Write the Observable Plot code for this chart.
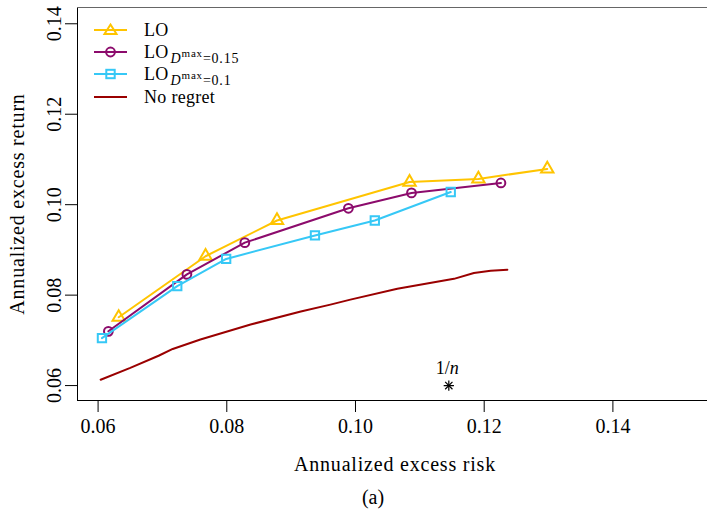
<!DOCTYPE html>
<html><head><meta charset="utf-8">
<script src="https://cdn.jsdelivr.net/npm/d3@7"></script>
<script src="https://cdn.jsdelivr.net/npm/@observablehq/plot@0.6"></script>
<style>
body{margin:0;background:#fff;}
#wrap{position:relative;width:707px;height:518px;font-family:"Liberation Serif","Times New Roman",serif;color:#000;overflow:hidden;}
.t{position:absolute;white-space:nowrap;line-height:1;}
#xt{left:395px;top:454px;transform:translateX(-50%);font-size:20px;letter-spacing:0.8px;}
#yt{left:17px;top:204px;transform:translate(-50%,-50%) rotate(-90deg);font-size:20px;letter-spacing:0.8px;}
#cap{left:373px;top:487px;transform:translateX(-50%);font-size:20px;}
#legend{position:absolute;left:90px;top:18px;font-size:18px;}
.row{position:absolute;left:0;height:24px;white-space:nowrap;}
.row > svg{display:block;}
.row > span.lab{position:absolute;left:54px;top:3px;line-height:1;letter-spacing:0.3px;}
.sb{font-size:14px;position:relative;top:5px;margin-left:2px;letter-spacing:0.8px;}
.sp{font-size:11px;position:relative;top:-6px;letter-spacing:0.8px;}
</style></head><body><div id="wrap"></div>
<script>
// Data
const loX  = [0.0632, 0.0767, 0.0878, 0.1084, 0.1191, 0.1298];
const loY  = [0.0751, 0.0886, 0.0965, 0.1050, 0.1057, 0.1079];
const lo15X = [0.0616, 0.0738, 0.0828, 0.0989, 0.1087, 0.1226];
const lo15Y = [0.0720, 0.0846, 0.0916, 0.0992, 0.1026, 0.1048];
const lo10X = [0.0606, 0.0723, 0.0799, 0.0937, 0.1030, 0.1148];
const lo10Y = [0.0705, 0.0820, 0.0880, 0.0932, 0.0965, 0.1028];
const nrX = [0.0604, 0.0650, 0.0694, 0.0716, 0.0759, 0.0837, 0.0915, 0.0961, 0.0992, 0.1065, 0.1153, 0.1184, 0.1210, 0.1236];
const nrY = [0.0613, 0.0639, 0.0666, 0.0681, 0.0702, 0.0735, 0.0764, 0.0779, 0.0790, 0.0814, 0.0836, 0.0849, 0.0854, 0.0856];
const eqX = [0.1145];
const eqY = [0.0600];
const xTicks = [0.06, 0.08, 0.10, 0.12, 0.14];
const yTicks = [0.06, 0.08, 0.10, 0.12, 0.14];
const xDomain = [0.0568, 0.1547];
const yDomain = [0.0567, 0.1436];

const colors = {lo: "#FFC400", lo15: "#8C0B6C", lo10: "#36C8F6", nr: "#9A0000"};
const zip = (xs, ys) => xs.map((x, i) => ({x, y: ys[i]}));
const lo = zip(loX, loY), lo15 = zip(lo15X, lo15Y), lo10 = zip(lo10X, lo10Y), nr = zip(nrX, nrY), eq = zip(eqX, eqY);
const fmt = d3.format(".2f");
const ff = "Liberation Serif, Times New Roman, serif";

const chart = Plot.plot({
  width: 707, height: 518,
  marginLeft: 77, marginRight: 0, marginTop: 7, marginBottom: 118,
  style: {fontFamily: ff, background: "white", overflow: "visible"},
  x: {domain: xDomain},
  y: {domain: yDomain},
  marks: [
    Plot.axisX({ticks: xTicks, tickSize: 12, tickPadding: 6, tickFormat: fmt, fontSize: 20, stroke: "#000", label: null}),
    Plot.axisY({ticks: yTicks, tickSize: 12, tickFormat: () => "", stroke: "#000", label: null}),
    Plot.text(yTicks, {y: d => d, text: d => fmt(d), frameAnchor: "left", dx: -23, rotate: -90, textAnchor: "middle", lineAnchor: "middle", fontSize: 20}),
    Plot.ruleX([xDomain[0]], {stroke: "#000"}),
    Plot.ruleY([yDomain[0]], {stroke: "#000"}),
    Plot.ruleY([yDomain[1]], {stroke: "#666"}),
    Plot.line(nr, {x: "x", y: "y", stroke: colors.nr, strokeWidth: 2}),
    Plot.line(lo, {x: "x", y: "y", stroke: colors.lo, strokeWidth: 2}),
    Plot.dot(lo, {x: "x", y: "y", symbol: "triangle", r: 4.6, stroke: colors.lo, strokeWidth: 2, fill: "none"}),
    Plot.line(lo15, {x: "x", y: "y", stroke: colors.lo15, strokeWidth: 2}),
    Plot.dot(lo15, {x: "x", y: "y", symbol: "circle", r: 4.4, stroke: colors.lo15, strokeWidth: 2, fill: "none"}),
    Plot.line(lo10, {x: "x", y: "y", stroke: colors.lo10, strokeWidth: 2}),
    Plot.dot(lo10, {x: "x", y: "y", symbol: "square", r: 4.7, stroke: colors.lo10, strokeWidth: 2, fill: "none"}),
    Plot.dot(eq, {x: "x", y: "y", symbol: "plus", r: 3.4, stroke: "#000", strokeWidth: 1.2}),
    Plot.dot(eq, {x: "x", y: "y", symbol: "times", r: 3.4, stroke: "#000", strokeWidth: 1.2}),
    Plot.text(eq, {x: "x", y: "y", text: () => "1/", textAnchor: "end", dx: 1, dy: -17, fontSize: 18}),
    Plot.text(eq, {x: "x", y: "y", text: () => "n", textAnchor: "start", dx: 1, dy: -17, fontSize: 18, fontStyle: "italic"})
  ]
});

const wrap = document.getElementById("wrap");
wrap.appendChild(chart);

function t(id, html) { const d = document.createElement("div"); d.className = "t"; d.id = id; d.innerHTML = html; wrap.appendChild(d); }
t("xt", "Annualized excess risk");
t("yt", "Annualized excess return");
t("cap", "(a)");

// legend
const leg = document.createElement("div"); leg.id = "legend"; wrap.appendChild(leg);
const rows = [
  {y: 0, c: colors.lo, m: "tri", label: "LO"},
  {y: 22, c: colors.lo15, m: "circ", label: 'LO<span class="sb"><i>D</i><span class="sp">max</span>=0.15</span>'},
  {y: 44, c: colors.lo10, m: "sq", label: 'LO<span class="sb"><i>D</i><span class="sp">max</span>=0.1</span>'},
  {y: 67, c: colors.nr, m: null, label: "No regret"}
];
rows.forEach(r => {
  const row = document.createElement("div"); row.className = "row"; row.style.top = r.y + "px";
  let mk = "";
  if (r.m === "tri") mk = `<path d="M20.5,6.5 L26.5,16 L14.5,16 Z" fill="none" stroke="${r.c}" stroke-width="2"/>`;
  if (r.m === "circ") mk = `<circle cx="20.5" cy="12" r="4.4" fill="none" stroke="${r.c}" stroke-width="2"/>`;
  if (r.m === "sq") mk = `<rect x="16.3" y="7.8" width="8.4" height="8.4" fill="none" stroke="${r.c}" stroke-width="2"/>`;
  row.innerHTML = `<svg width="40" height="24"><line x1="4" x2="37" y1="12" y2="12" stroke="${r.c}" stroke-width="2"/>${mk}</svg><span class="lab">${r.label}</span>`;
  leg.appendChild(row);
});
</script>
</body></html>
